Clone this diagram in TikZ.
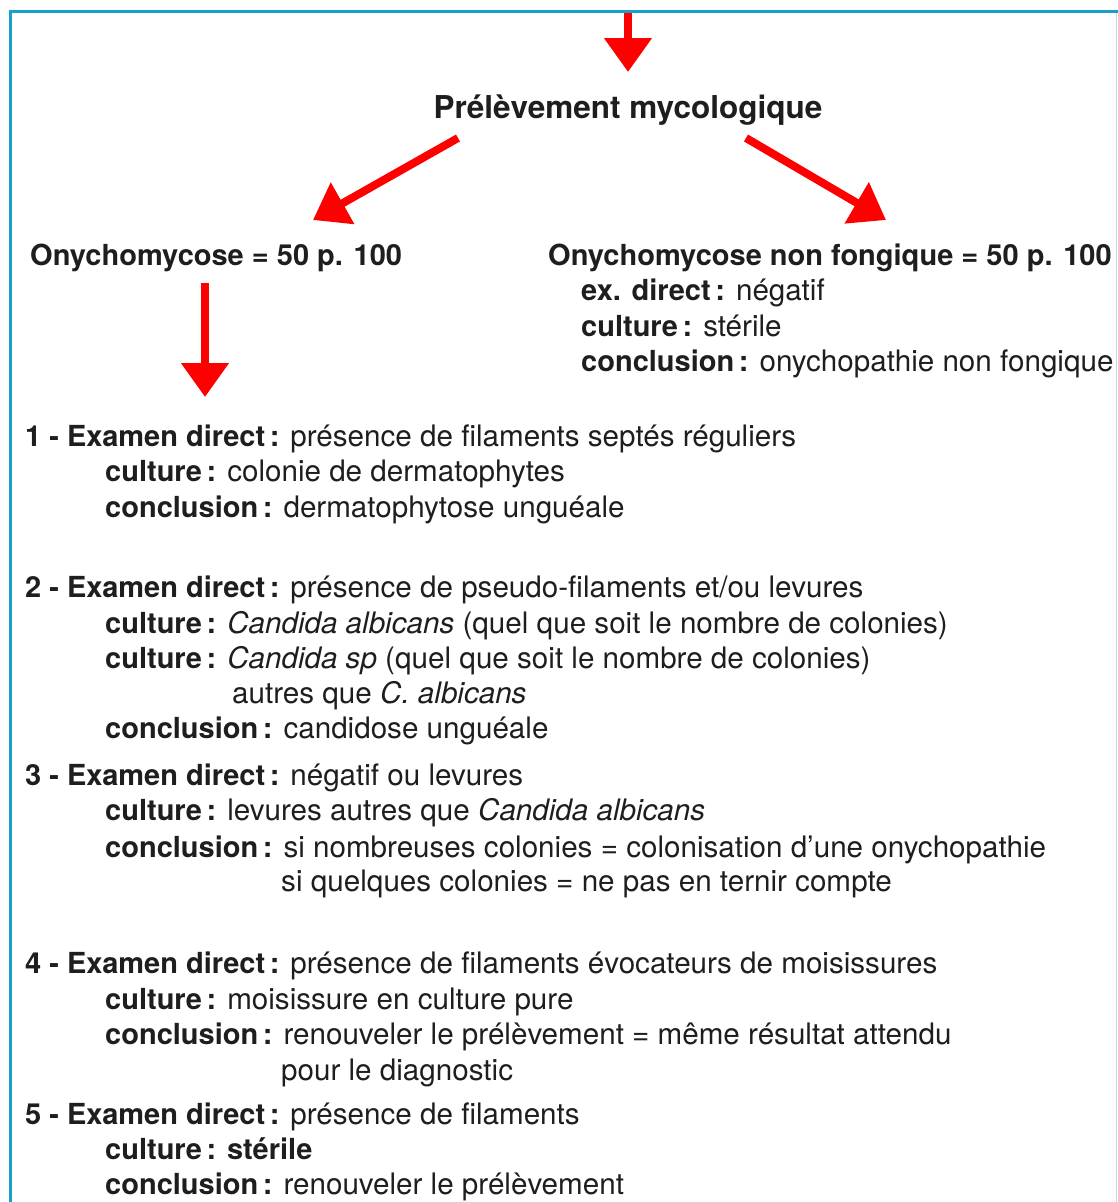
\documentclass[tikz,border=0pt]{standalone}
\usepackage{fontspec}
\setmainfont{TeX Gyre Heros}
\usetikzlibrary{arrows.meta}
\definecolor{frameblue}{HTML}{1A9FC9}
\definecolor{framelight}{HTML}{B8DCEA}
\definecolor{arrowred}{HTML}{FF0000}
\definecolor{inkdark}{HTML}{1E1E1E}
\newcommand\bx[1]{{\fontsize{29}{35}\selectfont\bfseries #1}}
\newcommand\cl{\hspace{0.16em}:}
\begin{document}
\begin{tikzpicture}[x=1pt,y=1pt,
  txt/.style={anchor=base west,inner sep=0pt,text=inkdark,font=\fontsize{29.6}{35}\selectfont},
  ttl/.style={anchor=base,inner sep=0pt,text=inkdark,font=\fontsize{31.5}{36}\selectfont\bfseries},
  redarrow/.style={draw=arrowred,line width=8pt,-{Triangle[length=34pt,width=46pt]},shorten <=0pt}
]
\useasboundingbox (0,0) rectangle (1118,-1202);
\fill[white] (0,0) rectangle (1118,-1202);
% frame
\draw[framelight,line width=1.5pt] (1116.5,-11) -- (1116.5,-1202);
\draw[frameblue,line width=2.5pt] (10.5,-1202) -- (10.5,-11.5) -- (1118,-11.5);

% nodes
\coordinate (top) at (628,-12.5);
\coordinate (topend) at (628,-72);
\node[ttl] (title) at (628,-118) {Prélèvement mycologique};
\coordinate (lstart) at (458,-138);
\coordinate (lend) at (313,-220);
\coordinate (rstart) at (746,-138);
\coordinate (rend) at (886,-220);

\node[txt] (onyA) at (30,-265) {\bx{Onychomycose = 50 p. 100}};
\node[txt] (onyB) at (548,-265) {\bx{Onychomycose non fongique = 50 p. 100}};
\node[txt] (b1) at (581,-300) {\bx{ex. direct\cl} négatif};
\node[txt] (b2) at (581,-336) {\bx{culture\cl} stérile};
\node[txt] (b3) at (581,-371) {\bx{conclusion\cl} onychopathie non fongique};

\coordinate (dstart) at (205,-283);
\coordinate (dend) at (205,-397);

\node[txt] (e1) at (25,-446) {\bx{1 - Examen direct\cl} présence de filaments septés réguliers};
\node[txt] (e1c) at (105,-481) {\bx{culture\cl} colonie de dermatophytes};
\node[txt] (e1d) at (105,-517) {\bx{conclusion\cl} dermatophytose unguéale};

\node[txt] (e2) at (25,-597) {\bx{2 - Examen direct\cl} présence de pseudo-filaments et/ou levures};
\node[txt] (e2c) at (105,-633) {\bx{culture\cl} \textit{Candida albicans} (quel que soit le nombre de colonies)};
\node[txt] (e2c2) at (105,-668) {\bx{culture\cl} \textit{Candida sp} (quel que soit le nombre de colonies)};
\node[txt] (e2c3) at (232,-703) {autres que \textit{C. albicans}};
\node[txt] (e2d) at (105,-738) {\bx{conclusion\cl} candidose unguéale};

\node[txt] (e3) at (25,-785) {\bx{3 - Examen direct\cl} négatif ou levures};
\node[txt] (e3c) at (105,-820) {\bx{culture\cl} levures autres que \textit{Candida albicans}};
\node[txt] (e3d) at (105,-857) {\bx{conclusion\cl} si nombreuses colonies = colonisation d’une onychopathie};
\node[txt] (e3d2) at (281,-891) {si quelques colonies = ne pas en ternir compte};

\node[txt] (e4) at (25,-973) {\bx{4 - Examen direct\cl} présence de filaments évocateurs de moisissures};
\node[txt] (e4c) at (105,-1009) {\bx{culture\cl} moisissure en culture pure};
\node[txt] (e4d) at (105,-1044) {\bx{conclusion\cl} renouveler le prélèvement = même résultat attendu};
\node[txt] (e4d2) at (281,-1080) {pour le diagnostic};

\node[txt] (e5) at (25,-1124) {\bx{5 - Examen direct\cl} présence de filaments};
\node[txt] (e5c) at (105,-1159) {\bx{culture\cl{} stérile}};
\node[txt] (e5d) at (105,-1194) {\bx{conclusion\cl} renouveler le prélèvement};

% arrows
\draw[redarrow] (top) -- (topend);
\draw[redarrow] (lstart) -- (lend);
\draw[redarrow] (rstart) -- (rend);
\draw[redarrow] (dstart) -- (dend);
\end{tikzpicture}
\end{document}
